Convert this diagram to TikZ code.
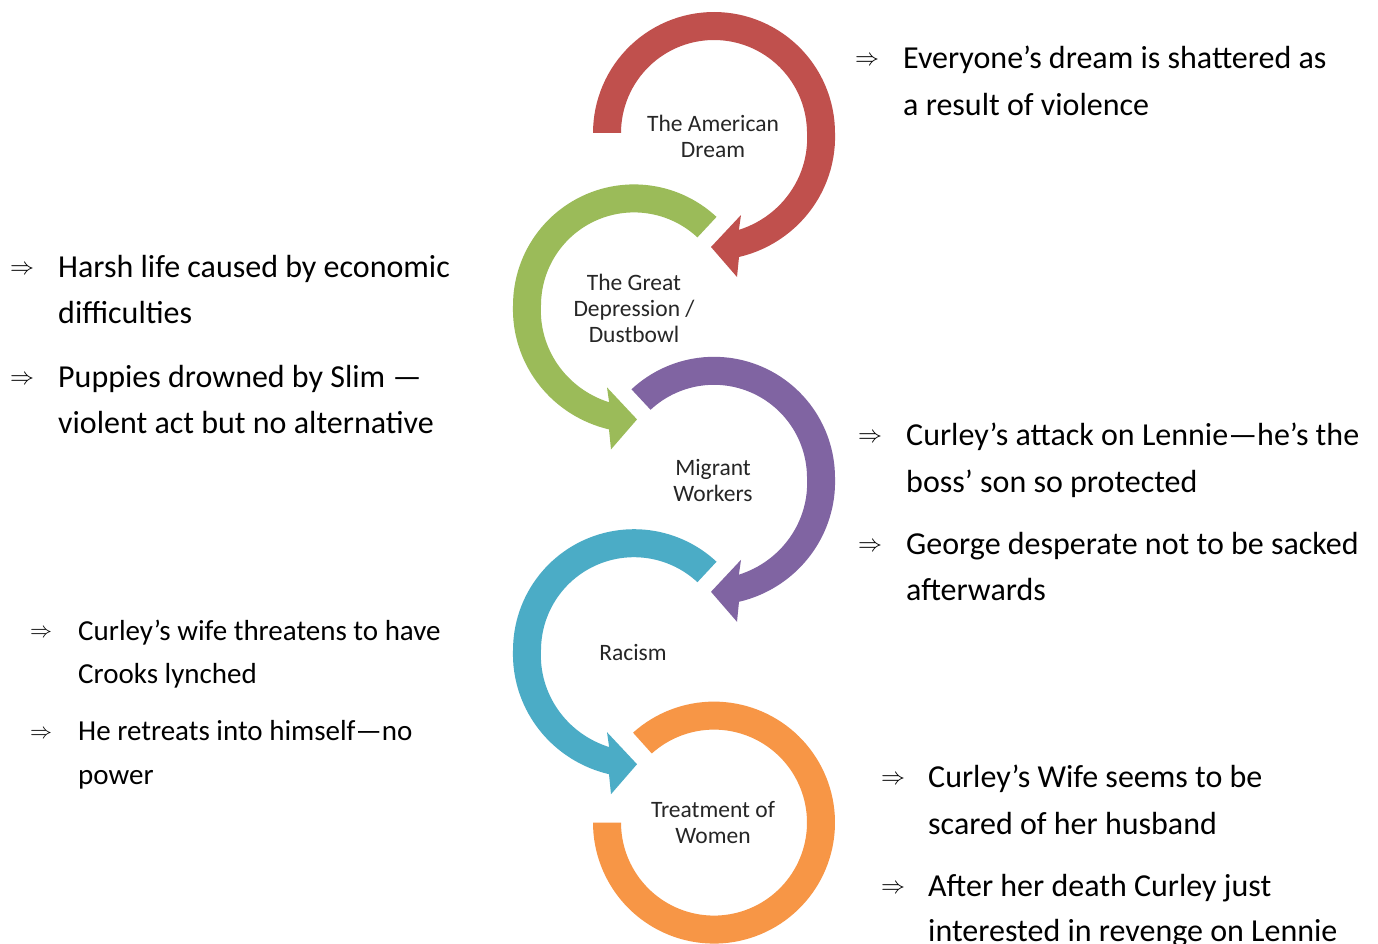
\documentclass[tikz,border=0pt]{standalone}
\usepackage{graphicx}
\usepackage{fontspec}
\setmainfont{Carlito}
\definecolor{cRed}{HTML}{C0504D}
\definecolor{cGreen}{HTML}{9BBB59}
\definecolor{cPurple}{HTML}{8064A2}
\definecolor{cTeal}{HTML}{4BACC6}
\definecolor{cOrange}{HTML}{F79646}
% bending arrow: centre at local origin, starts at math angle #1, runs clockwise to a head below the centre
\newcommand{\bendarrow}[2]{%
  \fill[#2] plot[domain=#1:-78.6, samples=90, variable=\t]
      ({(121+5.5*max(0,-\t)/78.6)*cos(\t)}, {-(121+5.5*max(0,-\t)/78.6)*sin(\t)})
    -- (23,144) -- (-3,114) -- (27,82)
    -- plot[domain=-75.6:#1, samples=90, variable=\t]
      ({(93+7*max(0,-\t)/75.6)*cos(\t)}, {-(93+7*max(0,-\t)/75.6)*sin(\t)})
    -- cycle;}
\newcommand{\bigimp}[1]{\resizebox{#1}{!}{$\Rightarrow$}}
\begin{document}
\begin{tikzpicture}[x=1pt,y=-1pt,
  body/.style={font=\fontsize{32}{38}\selectfont, anchor=base west, inner sep=0pt, text=black},
  bodysm/.style={font=\fontsize{29}{35}\selectfont, anchor=base west, inner sep=0pt, text=black},
  bul/.style={inner sep=0pt, anchor=center},
  lab/.style={font=\fontsize{23.5}{26}\selectfont, align=center, text=black!85, inner sep=0pt}]
\useasboundingbox (0,0) rectangle (1378,944);
\fill[white] (0,0) rectangle (1378,944);

% ---- rings ----
\begin{scope}[shift={(714,133)}]
  \bendarrow{180}{cRed}
\end{scope}
\begin{scope}[shift={(634,305.4)}, xscale=-1]
  \bendarrow{133}{cGreen}
\end{scope}
\begin{scope}[shift={(714,477.8)}]
  \bendarrow{133}{cPurple}
\end{scope}
\begin{scope}[shift={(634,650.2)}, xscale=-1]
  \bendarrow{133}{cTeal}
\end{scope}
\begin{scope}[shift={(714,822.6)}]
  \fill[cOrange] plot[domain=132:-180, samples=120, variable=\t] ({121*cos(\t)}, {-121*sin(\t)})
    -- plot[domain=-180:132, samples=120, variable=\t] ({93*cos(\t)}, {-93*sin(\t)}) -- cycle;
\end{scope}

% ---- ring labels ----
\node[lab] (dream) at (713,136) {The American\\Dream};
\node[lab] (depr) at (634,308) {The Great\\Depression /\\Dustbowl};
\node[lab] (migr) at (713,480) {Migrant\\Workers};
\node[lab] (rac) at (633,652) {Racism};
\node[lab] (women) at (713,823) {Treatment of\\Women};

% ---- right block 1 ----
\node[bul] (b1) at (867,61) {\bigimp{24pt}};
\node[body] (r1a) at (903,69) {Everyone’s dream is shattered as};
\node[body] (r1b) at (903,116) {a result of violence};

% ---- left block 1 ----
\node[bul] (b2) at (22,270) {\bigimp{24pt}};
\node[body] (l1a) at (58,277) {Harsh life caused by economic};
\node[body] (l1b) at (58,323) {difficulties};
\node[bul] (b3) at (22,380) {\bigimp{24pt}};
\node[body] (l1c) at (58,387) {Puppies drowned by Slim —};
\node[body] (l1d) at (58,433) {violent act but no alternative};

% ---- right block 2 ----
\node[bul] (b4) at (870,438) {\bigimp{24pt}};
\node[body] (r2a) at (906,445) {Curley’s attack on Lennie—he’s the};
\node[body] (r2b) at (906,492) {boss’ son so protected};
\node[bul] (b5) at (870,547) {\bigimp{24pt}};
\node[body] (r2c) at (906,554) {George desperate not to be sacked};
\node[body] (r2d) at (906,600) {afterwards};

% ---- left block 2 ----
\node[bul] (b6) at (41,633) {\bigimp{22pt}};
\node[bodysm] (l2a) at (78,640) {Curley’s wife threatens to have};
\node[bodysm] (l2b) at (78,683) {Crooks lynched};
\node[bul] (b7) at (41,734) {\bigimp{22pt}};
\node[bodysm] (l2c) at (78,740) {He retreats into himself—no};
\node[bodysm] (l2d) at (78,784) {power};

% ---- right block 3 ----
\node[bul] (b8) at (893,780) {\bigimp{24pt}};
\node[body] (r3a) at (928,787) {Curley’s Wife seems to be};
\node[body] (r3b) at (928,834) {scared of her husband};
\node[bul] (b9) at (893,889) {\bigimp{24pt}};
\node[body] (r3c) at (928,896) {After her death Curley just};
\node[body] (r3d) at (928,941) {interested in revenge on Lennie};
\end{tikzpicture}
\end{document}
